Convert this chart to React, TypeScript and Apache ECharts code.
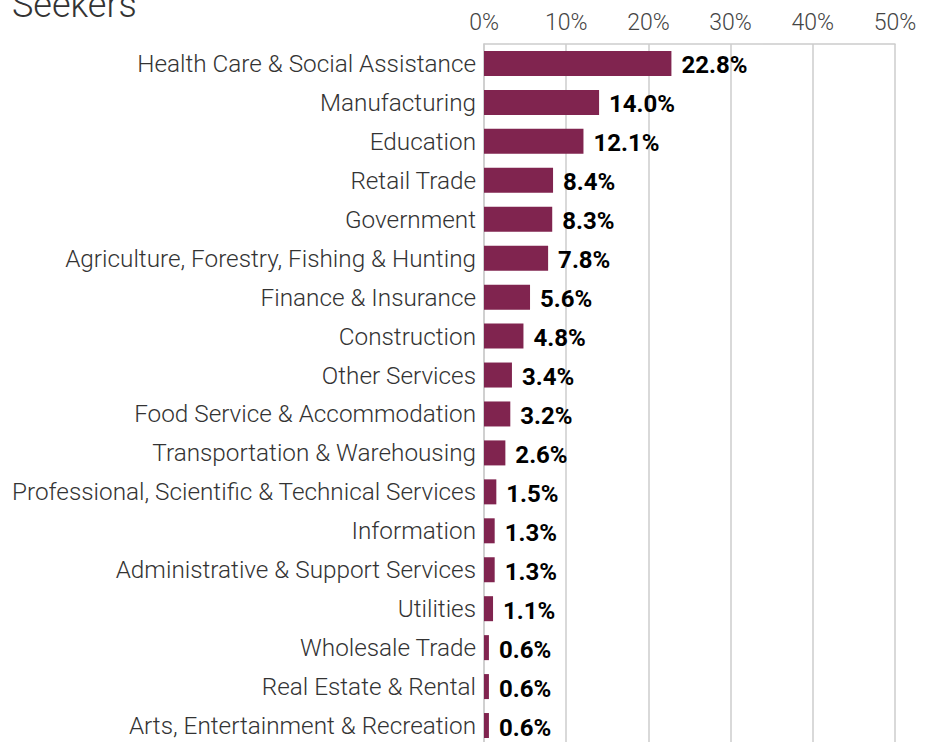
import React, { useEffect, useRef } from "react";
import * as echarts from "echarts";

const categories = [
  "Health Care & Social Assistance",
  "Manufacturing",
  "Education",
  "Retail Trade",
  "Government",
  "Agriculture, Forestry, Fishing & Hunting",
  "Finance & Insurance",
  "Construction",
  "Other Services",
  "Food Service & Accommodation",
  "Transportation & Warehousing",
  "Professional, Scientific & Technical Services",
  "Information",
  "Administrative & Support Services",
  "Utilities",
  "Wholesale Trade",
  "Real Estate & Rental",
  "Arts, Entertainment & Recreation",
];
const shares = [22.8, 14.0, 12.1, 8.4, 8.3, 7.8, 5.6, 4.8, 3.4, 3.2, 2.6, 1.5, 1.3, 1.3, 1.1, 0.6, 0.6, 0.6];
const titleText = "Seekers";

export default function App() {
  const ref = useRef<HTMLDivElement>(null);
  useEffect(() => {
    if (!ref.current) return;
    const chart = echarts.init(ref.current, null, { renderer: "svg" });
    chart.setOption({
      animation: false,
      backgroundColor: "#ffffff",
      graphic: [
        {
          type: "text",
          left: 12,
          top: -13,
          style: {
            text: titleText,
            fontFamily: "Roboto",
            fontWeight: 300,
            fontSize: 36,
            fill: "#333333",
          },
        },
      ],
      grid: { left: 484, right: 39, top: 44, bottom: 2, containLabel: false },
      xAxis: {
        type: "value",
        position: "top",
        min: 0,
        max: 50,
        interval: 10,
        axisLine: { show: true, lineStyle: { color: "#cccccc", width: 1.5 } },
        axisTick: { show: false },
        splitLine: { show: true, lineStyle: { color: "#cccccc", width: 1.5 } },
        axisLabel: {
          formatter: "{value}%",
          fontFamily: "Roboto",
          fontWeight: 300,
          fontSize: 23,
          color: "#444444",
          margin: 10,
        },
      },
      yAxis: {
        type: "category",
        data: categories,
        inverse: true,
        axisLine: { show: true, lineStyle: { color: "#cccccc", width: 1.5 } },
        axisTick: { show: false },
        axisLabel: {
          fontFamily: "Roboto",
          fontWeight: 300,
          fontSize: 24.3,
          color: "#333333",
          margin: 8,
        },
      },
      series: [
        {
          type: "bar",
          data: shares,
          barWidth: 25,
          itemStyle: { color: "#80244F" },
          label: {
            show: true,
            position: "right",
            distance: 10,
            offset: [0, 2],
            formatter: (p: any) => p.value.toFixed(1) + "%",
            fontFamily: "Roboto",
            fontWeight: "bold",
            fontSize: 24,
            color: "#000000",
          },
        },
      ],
    });
    return () => chart.dispose();
  }, []);
  return (
    <div
      ref={ref}
      style={{ position: "fixed", left: 0, top: 0, width: 934, height: 747 }}
    />
  );
}
